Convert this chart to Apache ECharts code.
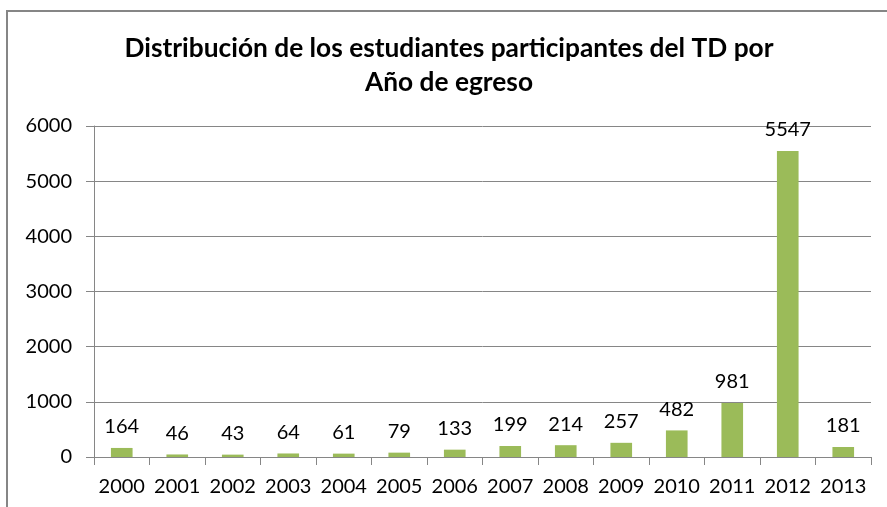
<!DOCTYPE html>
<html>
<head>
<meta charset="utf-8">
<script src="https://cdn.jsdelivr.net/npm/echarts@6/dist/echarts.min.js"></script>
<style>
  html, body { margin: 0; padding: 0; background: #fff; }
  #chart { width: 887px; height: 507px; }
</style>
</head>
<body>
<div id="chart"></div>
<script>
// años de egreso y cantidad de estudiantes
const years = ['2000', '2001', '2002', '2003', '2004', '2005', '2006',
  '2007', '2008', '2009', '2010', '2011', '2012', '2013'];
const students = [164, 46, 43, 64, 61, 79, 133, 199, 214, 257, 482, 981, 5547, 181];
const yTicks = [0, 1000, 2000, 3000, 4000, 5000, 6000];

const font = 'Lato';
const gray = '#868686';

const chart = echarts.init(document.getElementById('chart'));

chart.setOption({
  animation: false,
  textStyle: { fontFamily: font },
  title: {
    text: 'Distribución de los estudiantes participantes del TD por\nAño de egreso',
    left: 444,
    top: 27,
    textAlign: 'center',
    textStyle: {
      fontFamily: font,
      fontWeight: 'bold',
      fontSize: 26.3,
      lineHeight: 34,
      color: '#000'
    }
  },
  graphic: [{
    type: 'rect',
    shape: { x: 7, y: 11, width: 900, height: 520 },
    style: { fill: 'none', stroke: gray, lineWidth: 2 },
    silent: true
  }],
  grid: { left: 94, right: 16, top: 126, bottom: 50 },
  xAxis: {
    type: 'category',
    data: years,
    axisLine: { lineStyle: { color: gray, width: 1 } },
    axisTick: { show: true, length: 8, lineStyle: { color: gray } },
    axisLabel: { color: '#000', fontSize: 20, margin: 20, interval: 0, fontFamily: font }
  },
  yAxis: {
    type: 'value',
    min: yTicks[0],
    max: yTicks[yTicks.length - 1],
    interval: 1000,
    axisLine: { show: true, lineStyle: { color: gray, width: 1 } },
    axisTick: { show: true, length: 8, lineStyle: { color: gray } },
    axisLabel: {
      color: '#000', fontSize: 20, margin: 22, fontFamily: font,
      formatter: v => String(v)
    },
    splitLine: { lineStyle: { color: gray, width: 1 } }
  },
  series: [{
    type: 'bar',
    data: students,
    barWidth: '39%',
    itemStyle: { color: '#9BBB59' },
    label: {
      show: true,
      position: 'top',
      distance: 11,
      color: '#000',
      fontSize: 20,
      fontFamily: font
    }
  }]
});
</script>
</body>
</html>
